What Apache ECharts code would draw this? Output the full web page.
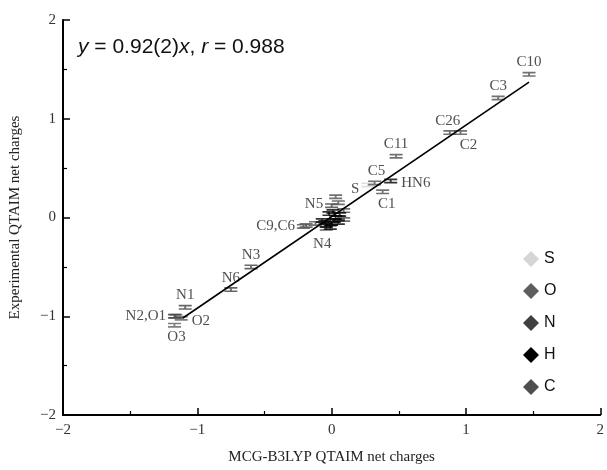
<!DOCTYPE html>
<html>
<head>
<meta charset="utf-8">
<script src="https://cdn.jsdelivr.net/npm/echarts@6/dist/echarts.min.js"></script>
<style>
  html, body { margin: 0; padding: 0; background: #fff; }
  #chart { width: 607px; height: 470px; }
</style>
</head>
<body>
<div id="chart"></div>
<script>
// atoms
const atomNames = ['C10', 'C3', 'C26', 'C2', 'C11', 'C5', 'S', 'HN6', 'C1', 'N5', 'C9', 'C6', 'N4', 'N3', 'N6', 'N1', 'N2', 'O1', 'O2', 'O3',
  'Ca', 'Cb', 'Cc', 'Cd', 'Ce', 'Cf',
  'Ha', 'Hb', 'Hc', 'Hd', 'He', 'Hf', 'Hg', 'Hh', 'Hi', 'Hj', 'Hk']
const elements = ['C', 'C', 'C', 'C', 'C', 'C', 'S', 'H', 'C', 'N', 'C', 'C', 'N', 'N', 'N', 'N', 'N', 'O', 'O', 'O',
  'C', 'C', 'C', 'C', 'C', 'C',
  'H', 'H', 'H', 'H', 'H', 'H', 'H', 'H', 'H', 'H', 'H']
const calcX = [1.47, 1.24, 0.88, 0.96, 0.48, 0.32, 0.27, 0.44, 0.38, 0.00, -0.21, -0.19, -0.04, -0.60, -0.75, -1.09, -1.17, -1.16, -1.12, -1.17,
  0.03, 0.05, 0.09, 0.09, -0.12, 0.05,
  -0.02, 0.03, -0.07, 0.00, 0.05, -0.04, 0.02, -0.01, 0.06, -0.05, 0.01]
const exptY = [1.45, 1.21, 0.86, 0.86, 0.62, 0.35, 0.33, 0.37, 0.26, 0.12, -0.09, -0.08, -0.11, -0.50, -0.73, -0.91, -1.00, -1.00, -1.02, -1.09,
  0.21, 0.15, 0.07, -0.02, -0.06, 0.00,
  0.04, 0.00, -0.03, -0.06, -0.05, -0.08, -0.03, -0.10, 0.03, -0.05, 0.06]
// text printed next to a point ('' = none)
const tags = ['C10', 'C3', 'C26', 'C2', 'C11', 'C5', 'S', 'HN6', 'C1', 'N5', 'C9,C6', '', 'N4', 'N3', 'N6', 'N1', 'N2,O1', '', 'O2', 'O3',
  '', '', '', '', '', '',
  '', '', '', '', '', '', '', '', '', '', '']

const legendOrder = ['S', 'O', 'N', 'H', 'C']
const fitX = [-1.11, 1.47]
const fitY = [-1.02, 1.37]

const colors = { S: '#d6d6d6', O: '#5e5e5e', N: '#404040', H: '#000000', C: '#4f4f4f' }
const labelPos = {
  'C10': ['top', [0, 0]], 'C3': ['top', [0, 0]], 'C26': ['top', [-2, 0]], 'C2': ['bottom', [8, 0]],
  'C11': ['top', [0, 0]], 'C5': ['top', [2, 0]], 'S': ['left', [0, 4]], 'HN6': ['right', [2, 2]],
  'C1': ['bottom', [4, 0]], 'N5': ['left', [0, -2]], 'C9,C6': ['left', [0, 0]], 'N4': ['bottom', [-4, 4]],
  'N3': ['top', [0, 0]], 'N6': ['top', [0, 0]], 'N1': ['top', [0, 0]], 'N2,O1': ['left', [0, 0]],
  'O2': ['right', [2, 3]], 'O3': ['bottom', [2, 0]]
}
const serif = '"Liberation Serif", "Times New Roman", serif'
const sans = '"Liberation Sans", Arial, sans-serif'
const barSymbol = 'path://M0,0H14V2H0Z M0,4H14V6H0Z M6,0H8V6H6Z'

const myChart = echarts.init(document.getElementById('chart'))

const getData = () => {
  const series = legendOrder.map(el => {
    const data = []
    atomNames.forEach((n, i) => {
      if (elements[i] !== el) return
      const item = { name: n, value: [calcX[i], exptY[i]] }
      const t = tags[i]
      if (t) {
        const p = labelPos[t]
        item.label = { show: true, formatter: t, position: p[0], offset: p[1], distance: 2 }
      }
      data.push(item)
    })
    return {
      name: el,
      type: 'scatter',
      symbol: barSymbol,
      symbolSize: [13, 5],
      itemStyle: { color: colors[el], opacity: 0.8 },
      label: { show: false, fontFamily: serif, fontSize: 15, color: '#222' },
      z: el === 'H' ? 4 : 3,
      data: data
    }
  })
  series.push({
    type: 'line',
    data: fitX.map((x, i) => [x, fitY[i]]),
    showSymbol: false,
    lineStyle: { color: '#000', width: 1.6 },
    silent: true,
    z: 5
  })

  const axisCommon = {
    type: 'value',
    min: -2,
    max: 2,
    interval: 1,
    splitLine: { show: false },
    axisLine: { onZero: false, lineStyle: { color: '#000', width: 2 } },
    axisTick: { inside: true, length: 7, lineStyle: { color: '#000', width: 1.5 } },
    minorTick: { show: true, splitNumber: 2, length: 4, lineStyle: { color: '#000', width: 1.2 } },
    axisLabel: {
      fontFamily: serif, fontSize: 15, color: '#333',
      formatter: v => String(v).replace('-', '\u2212')
    },
    nameLocation: 'middle',
    nameTextStyle: { fontFamily: serif, fontSize: 15, color: '#222' }
  }

  const option = {
    animation: false,
    backgroundColor: '#fff',
    grid: { left: 60, right: 4, top: 20, bottom: 49 },
    legend: {
      orient: 'vertical',
      left: 518,
      top: 246,
      itemGap: 16,
      itemWidth: 16,
      itemHeight: 16,
      icon: 'diamond',
      data: legendOrder.map(el => ({ name: el, itemStyle: { color: colors[el], opacity: 1 } })),
      textStyle: { fontFamily: sans, fontSize: 16, color: '#111' }
    },
    xAxis: Object.assign({}, axisCommon, {
      name: 'MCG-B3LYP QTAIM net charges',
      nameGap: 35,
      axisLabel: Object.assign({}, axisCommon.axisLabel, { margin: 8 })
    }),
    yAxis: Object.assign({}, axisCommon, {
      name: 'Experimental QTAIM net charges',
      nameGap: 40,
      axisLabel: Object.assign({}, axisCommon.axisLabel, { margin: 7 })
    }),
    graphic: [{
      type: 'text',
      left: 78,
      top: 37,
      style: {
        text: '{i|y} = 0.92(2){i|x}, {i|r} = 0.988',
        font: '21px ' + sans,
        fill: '#111',
        rich: { i: { fontStyle: 'italic', fontSize: 21, fontFamily: sans } }
      }
    }],
    series: series
  }
  return option
}

myChart.setOption(getData())
</script>
</body>
</html>
